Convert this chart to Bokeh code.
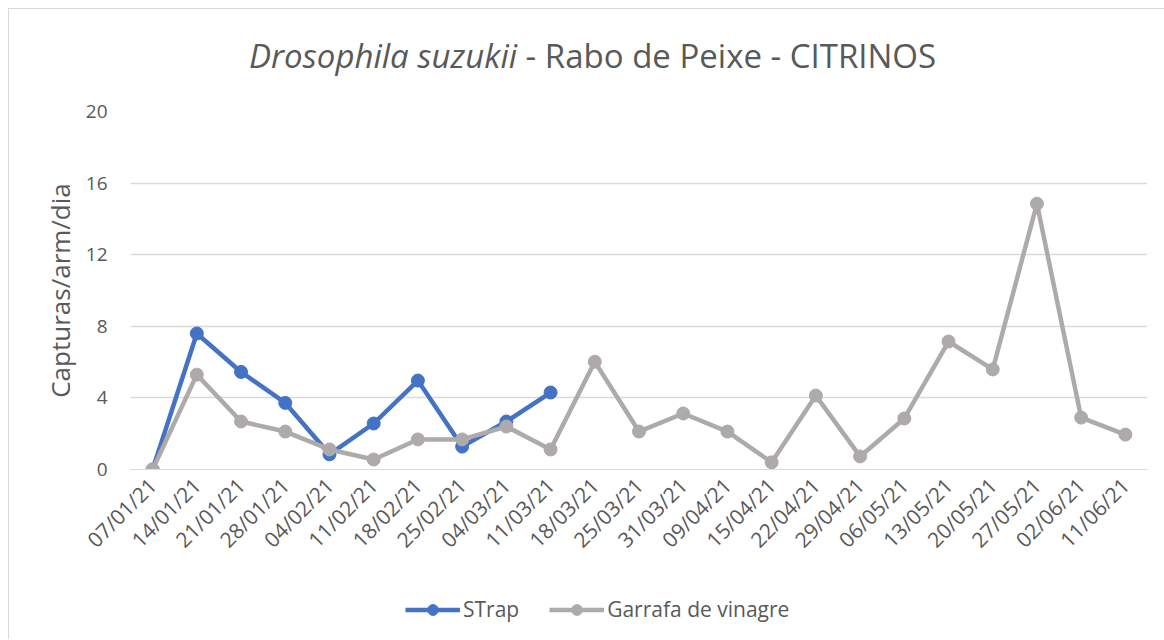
from bokeh.plotting import figure
from bokeh.models import (Range1d, FactorRange, FixedTicker, Legend, LegendItem,
                          ColumnDataSource, Div)
from bokeh.layouts import column
from bokeh.embed import file_html
from bokeh.resources import INLINE
import math

dates = ["07/01/21", "14/01/21", "21/01/21", "28/01/21", "04/02/21", "11/02/21",
         "18/02/21", "25/02/21", "04/03/21", "11/03/21", "18/03/21", "25/03/21",
         "31/03/21", "09/04/21", "15/04/21", "22/04/21", "29/04/21", "06/05/21",
         "13/05/21", "20/05/21", "27/05/21", "02/06/21", "11/06/21"]

strap_dates = dates[:10]
strap_values = [0.0, 7.6, 5.45, 3.72, 0.85, 2.57, 4.97, 1.28, 2.68, 4.3]

garrafa_values = [0.0, 5.3, 2.68, 2.12, 1.12, 0.56, 1.68, 1.68, 2.4, 1.12,
                  6.02, 2.12, 3.13, 2.12, 0.4, 4.13, 0.73, 2.85, 7.15, 5.59,
                  14.85, 2.9, 1.95]

y_ticks = [0, 4, 8, 12, 16, 20]

title_italic = "Drosophila suzukii"
title_rest = " - Rabo de Peixe - CITRINOS"
y_label = "Capturas/arm/dia"
series_names = ["STrap", "Garrafa de vinagre"]

BLUE = "#4472C4"
GRAY = "#AEAAAA"
TXT = "#595959"
GRID = "#D9D9D9"
FONT = "Open Sans"
W = 1155

# ---- title (mixed italic / normal) ----
title_div = Div(
    text=(f'<div style="width:{W}px; box-sizing:border-box; text-align:center; '
          f'font-family:\'Open Sans\'; font-size:33px; color:{TXT}; line-height:40px; '
          f'padding-top:27px; padding-left:12px; white-space:nowrap;">'
          f'<i>{title_italic}</i>{title_rest}</div>'),
    width=W, height=90, margin=0)

# ---- main chart ----
p = figure(width=W, height=467, x_range=FactorRange(*dates),
           y_range=Range1d(0, 20), output_backend="svg", toolbar_location=None,
           min_border_left=121, min_border_right=17, min_border_top=12,
           min_border_bottom=95, margin=0)
p.outline_line_color = None
p.background_fill_color = "white"
p.border_fill_color = "white"

p.yaxis.ticker = FixedTicker(ticks=y_ticks)
p.yaxis.axis_line_color = None
p.yaxis.major_tick_line_color = None
p.yaxis.minor_tick_line_color = None
p.yaxis.major_label_text_font = FONT
p.yaxis.major_label_text_font_size = "19px"
p.yaxis.major_label_text_color = TXT
p.yaxis.major_label_standoff = 17
p.yaxis.axis_label = y_label
p.yaxis.axis_label_text_font = FONT
p.yaxis.axis_label_text_font_size = "26px"
p.yaxis.axis_label_text_font_style = "normal"
p.yaxis.axis_label_text_color = TXT
p.yaxis.axis_label_standoff = 5

p.xaxis.axis_line_color = GRID
p.xaxis.major_tick_line_color = None
p.xaxis.minor_tick_line_color = None
p.xaxis.major_label_orientation = math.pi / 4
p.xaxis.major_label_text_font = FONT
p.xaxis.major_label_text_font_size = "21px"
p.xaxis.major_label_text_color = TXT
p.xaxis.major_label_standoff = 6

p.xgrid.grid_line_color = None
p.ygrid.grid_line_color = GRID
p.ygrid.grid_line_width = 1.3

src_s = ColumnDataSource(dict(x=strap_dates, y=strap_values))
src_g = ColumnDataSource(dict(x=dates, y=garrafa_values))

p.line("x", "y", source=src_s, line_color=BLUE, line_width=4.5)
p.scatter("x", "y", source=src_s, size=13, fill_color=BLUE, line_color=BLUE)
p.line("x", "y", source=src_g, line_color=GRAY, line_width=4.5)
p.scatter("x", "y", source=src_g, size=13, fill_color=GRAY, line_color=GRAY)

# ---- legend strip: same series & styles, data kept out of its view ----
lf = figure(width=W, height=73, x_range=FactorRange(*dates), y_range=Range1d(100, 101),
            x_axis_type=None, y_axis_type=None, output_backend="svg",
            toolbar_location=None, min_border=0, margin=0)
lf.outline_line_color = None
lf.xgrid.grid_line_color = None
lf.ygrid.grid_line_color = None
ls = lf.line("x", "y", source=src_s, line_color=BLUE, line_width=4.5)
ms = lf.scatter("x", "y", source=src_s, fill_color=BLUE, line_color=BLUE)
lg = lf.line("x", "y", source=src_g, line_color=GRAY, line_width=4.5)
mg = lf.scatter("x", "y", source=src_g, fill_color=GRAY, line_color=GRAY)

legend = Legend(items=[LegendItem(label=series_names[0], renderers=[ls, ms]),
                       LegendItem(label=series_names[1], renderers=[lg, mg])],
                orientation="horizontal", location=(275, 16),
                glyph_width=55, glyph_height=27, label_height=27,
                label_standoff=3, spacing=30, padding=0, margin=0,
                border_line_color=None, background_fill_alpha=0,
                label_text_font=FONT, label_text_font_size="21px",
                label_text_color=TXT)
lf.add_layout(legend, "center")

layout = column(title_div, p, lf, spacing=0,
                styles={"border-left": "1px solid #D9D9D9",
                        "border-top": "1px solid #D9D9D9",
                        "margin-left": "8px", "margin-top": "8px"})

open("out.html", "w").write(file_html(layout, INLINE))
